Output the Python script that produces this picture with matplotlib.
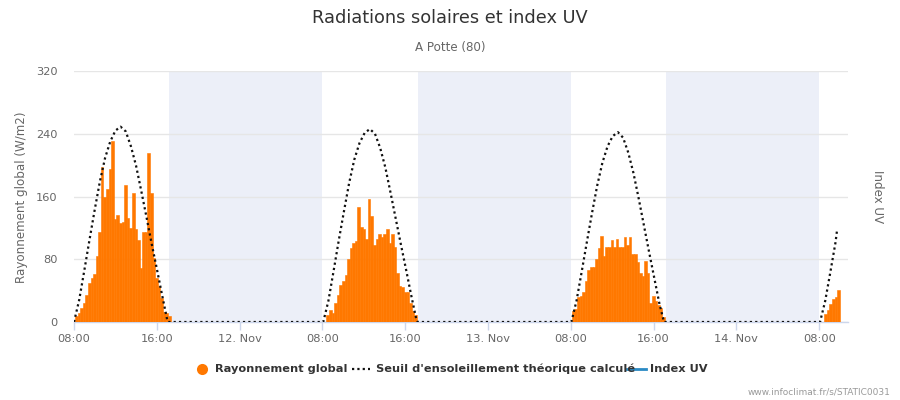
import matplotlib
matplotlib.use('Agg')
import matplotlib.pyplot as plt
from matplotlib.lines import Line2D
import numpy as np

# ---------------- data (hours since 11 Nov 00:00) ----------------
bar_step = 0.25  # 15-minute values
day_bar_starts = [8.1, 32.39, 56.1, 80.49]
ray_day1 = [8, 12, 18, 24, 35, 50, 56, 61, 84, 115, 197, 160, 170, 195, 231, 131, 137,
            126, 128, 175, 133, 120, 164, 119, 104, 69, 115, 115, 215, 164, 81, 56, 46,
            30, 13, 12, 8]
ray_day2 = [9, 15, 12, 24, 35, 47, 52, 60, 80, 94, 101, 103, 146, 121, 119, 106, 157, 135,
            98, 106, 112, 108, 112, 119, 101, 112, 96, 63, 46, 44, 38, 38, 24, 14, 9]
ray_day3 = [14, 16, 32, 33, 38, 52, 66, 70, 70, 80, 94, 110, 84, 96, 96, 105, 96, 106, 96,
            95, 109, 98, 108, 87, 87, 76, 63, 59, 78, 62, 24, 33, 27, 22, 18, 6]
ray_day4 = [10, 15, 23, 29, 32, 41]

seuil_step = 0.5
seuil_starts = [8.0, 32.08, 56.05, 80.08]
seuil_ends = [17.1, 41.2, 65.0, None]
seuil_day1 = [0, 28, 66, 105, 143, 179, 209, 230, 244, 249, 243, 224, 199, 167, 134, 100, 68, 35, 3]
seuil_day2 = [0, 27, 65, 104, 141, 177, 207, 228, 241, 246, 240, 222, 197, 165, 132, 99, 67, 34, 3]
seuil_day3 = [0, 27, 64, 102, 139, 174, 203, 224, 237, 242, 235, 216, 190, 158, 124, 90, 57, 24]
seuil_day4 = [0, 27, 64, 102]
seuil_day4_last = (81.72, 117)

night_bands = [(17.18, 32.0), (41.23, 56.0), (65.2, 80.0)]

x_ticks = [8, 16, 24, 32, 40, 48, 56, 64, 72, 80]
x_labels = ['08:00', '16:00', '12. Nov', '08:00', '16:00', '13. Nov', '08:00', '16:00', '14. Nov', '08:00']
y_ticks = [0, 80, 160, 240, 320]

# ---------------- style ----------------
ORANGE = '#ff7800'
BAND = '#eceff8'
GRID = '#e6e6e6'
AXIS = '#ccd6eb'
BLUE = '#2a8ac4'

W, H = 900, 400
fig = plt.figure(figsize=(9, 4), dpi=100)
fig.patch.set_facecolor('white')
ax = fig.add_axes([74 / W, 1 - 322 / H, (848 - 74) / W, (322 - 71) / H])

for a, b in night_bands:
    ax.axvspan(a, b, color=BAND, lw=0, zorder=0)

for start, vals in zip(day_bar_starts, [ray_day1, ray_day2, ray_day3, ray_day4]):
    x = start + bar_step * np.arange(len(vals))
    ax.bar(x, vals, width=bar_step, align='edge', color=ORANGE, edgecolor=ORANGE,
           linewidth=0.4, zorder=2)

# theoretical threshold curve
cx, cy = [], []
for start, end, vals in zip(seuil_starts, seuil_ends,
                            [seuil_day1, seuil_day2, seuil_day3, seuil_day4]):
    cx.extend(start + seuil_step * np.arange(len(vals)))
    cy.extend(vals)
    if end is not None:
        cx.append(end)
        cy.append(0)
cx.append(seuil_day4_last[0])
cy.append(seuil_day4_last[1])
ax.plot(cx, cy, color='#111111', lw=1.6, dashes=(1, 1.4), zorder=3,
        dash_capstyle='butt')

ax.set_xlim(8, 82.78)
ax.set_ylim(0, 320)
ax.set_yticks(y_ticks)
ax.set_yticklabels([str(v) for v in y_ticks])
ax.set_xticks(x_ticks)
ax.set_xticklabels(x_labels)
ax.grid(axis='y', color=GRID, lw=1, zorder=1)
ax.set_axisbelow(True)
for s in ['top', 'right', 'left']:
    ax.spines[s].set_visible(False)
ax.spines['bottom'].set_color(AXIS)
ax.spines['bottom'].set_linewidth(1)
ax.spines['bottom'].set_zorder(1.5)
ax.tick_params(axis='x', length=6, width=1, color=AXIS, labelcolor='#666666',
               labelsize=8.2, pad=2.5)
ax.tick_params(axis='y', length=0, labelcolor='#666666', labelsize=8.2, pad=12)
ax.set_facecolor('white')

# texts
fig.text(0.5, 1 - 18 / H, 'Radiations solaires et index UV', ha='center', va='center',
         fontsize=12.8, color='#333333')
fig.text(0.5, 1 - 47 / H, 'A Potte (80)', ha='center', va='center',
         fontsize=8.6, color='#666666')
fig.text(22 / W, 1 - 197 / H, 'Rayonnement global (W/m2)', rotation=90, ha='center',
         va='center', fontsize=8.6, color='#666666')
fig.text(878 / W, 1 - 197 / H, 'Index UV', rotation=270, ha='center', va='center',
         fontsize=8.6, color='#666666')
fig.text(890 / W, 1 - 392 / H, 'www.infoclimat.fr/s/STATIC0031', ha='right', va='center',
         fontsize=6.5, color='#999999')

# legend (manual)
ly = 1 - 369 / H
LFS = 8.2
fig.add_artist(Line2D([202 / W], [ly], marker='o', markersize=8, color=ORANGE,
                      markeredgewidth=0, transform=fig.transFigure))
fig.text(215 / W, ly, 'Rayonnement global', ha='left', va='center', fontsize=LFS,
         fontweight='bold', color='#333333')
fig.add_artist(Line2D([352 / W, 370 / W], [ly, ly], color='#111111', lw=1.6,
                      dashes=(1, 1.4), transform=fig.transFigure))
fig.text(376 / W, ly, "Seuil d'ensoleillement théorique calculé", ha='left', va='center',
         fontsize=LFS, fontweight='bold', color='#333333')
fig.add_artist(Line2D([627 / W, 646 / W], [ly, ly], color=BLUE, lw=2,
                      transform=fig.transFigure))
fig.text(650 / W, ly, 'Index UV', ha='left', va='center', fontsize=LFS,
         fontweight='bold', color='#333333')

fig.savefig('out.png', dpi=100)
